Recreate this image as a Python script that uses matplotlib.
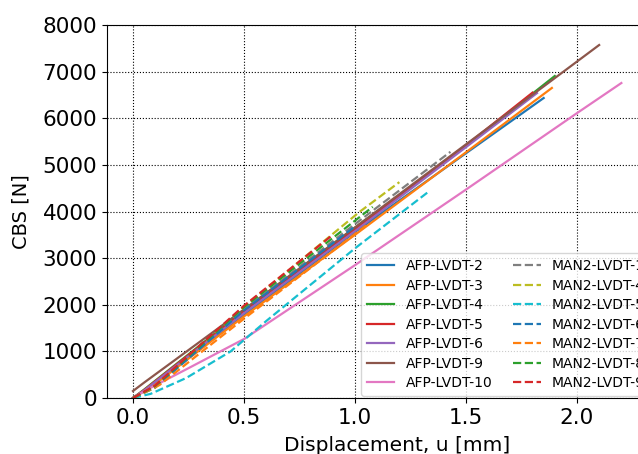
import matplotlib
matplotlib.use("Agg")
import matplotlib.pyplot as plt

# Force-displacement curves (u in mm, CBS in N)
afp_labels = ['AFP-LVDT-2', 'AFP-LVDT-3', 'AFP-LVDT-4', 'AFP-LVDT-5',
              'AFP-LVDT-6', 'AFP-LVDT-9', 'AFP-LVDT-10']
afp_u = [
    [0.0, 0.05, 0.5, 1.0, 1.5, 1.85],
    [0.0, 0.1, 0.5, 1.0, 1.5, 1.887],
    [0.0, 0.05, 0.5, 1.0, 1.5, 1.90],
    [0.0, 0.05, 0.5, 1.0, 1.5, 1.80],
    [0.0, 0.05, 0.5, 1.0, 1.5, 1.82],
    [0.0, 0.05, 0.5, 1.0, 1.5, 2.10],
    [0.0, 0.06, 0.25, 0.5, 1.0, 1.5, 2.0, 2.2],
]
afp_f = [
    [0, 150, 1780, 3560, 5250, 6434],
    [0, 300, 1750, 3500, 5270, 6650],
    [0, 180, 1880, 3650, 5400, 6906],
    [0, 170, 1860, 3620, 5420, 6550],
    [0, 160, 1820, 3580, 5380, 6540],
    [150, 330, 1900, 3660, 5440, 7571],
    [0, 170, 640, 1265, 2850, 4470, 6110, 6756],
]

man_labels = ['MAN2-LVDT-1', 'MAN2-LVDT-4', 'MAN2-LVDT-5', 'MAN2-LVDT-6',
              'MAN2-LVDT-7', 'MAN2-LVDT-8', 'MAN2-LVDT-9']
man_u = [
    [0.0, 0.1, 0.5, 1.0, 1.43],
    [0.0, 0.1, 0.5, 1.02, 1.20],
    [0.0, 0.08, 0.24, 0.44, 0.6, 1.0, 1.33],
    [0.0, 0.1, 0.5, 1.0],
    [0.0, 0.12, 0.32, 0.5, 1.05],
    [0.0, 0.1, 0.5, 1.08],
    [0.0, 0.1, 0.5, 0.90],
]
man_f = [
    [0, 250, 1900, 3730, 5280],
    [0, 220, 1950, 3990, 4630],
    [0, 90, 430, 1000, 1650, 3210, 4420],
    [0, 230, 1880, 3680],
    [0, 280, 1030, 1700, 3700],
    [0, 260, 1950, 4100],
    [0, 270, 1980, 3500],
]

fig = plt.figure(figsize=(6.38, 4.54), dpi=100)
# axes run past the right edge of the figure, like in the original export
ax = fig.add_axes([0.1677, 0.1233, 0.9106, 0.8216])

for u, f, lab in zip(afp_u, afp_f, afp_labels):
    ax.plot(u, f, '-', lw=1.6, label=lab)
for u, f, lab in zip(man_u, man_f, man_labels):
    ax.plot(u, f, '--', lw=1.6, label=lab)

ax.set_xlim(-0.117, 2.5)
ax.set_ylim(0, 8000)
ax.set_xticks([0.0, 0.5, 1.0, 1.5, 2.0])
ax.set_xticklabels(['0.0', '0.5', '1.0', '1.5', '2.0'])
ax.tick_params(labelsize=15.5)
ax.set_xlabel('Displacement, u [mm]', fontsize=14.5, labelpad=6)
ax.set_ylabel('CBS [N]', fontsize=14, labelpad=9)
ax.grid(True, color='black', linestyle=':', linewidth=0.8)

ax.legend(ncol=2, fontsize=10, loc='lower left',
          bbox_to_anchor=(0.566, 0.128), bbox_transform=fig.transFigure,
          borderaxespad=0, labelspacing=0.4, columnspacing=1.5)

fig.savefig('out.png', dpi=100)
